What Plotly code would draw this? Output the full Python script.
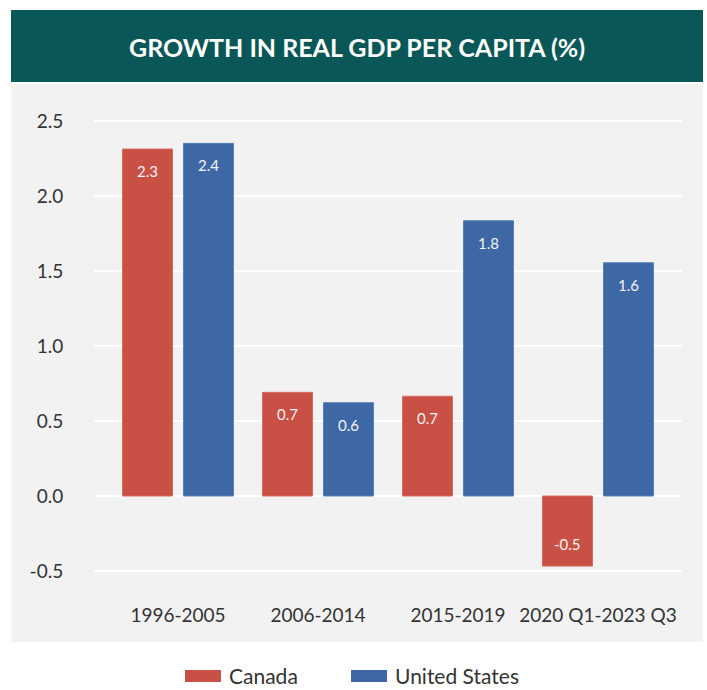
import plotly.graph_objects as go

# Growth in real GDP per capita (%), by period
periods = ["1996-2005", "2006-2014", "2015-2019", "2020 Q1-2023 Q3"]
canada = [2.313, 0.691, 0.665, -0.467]
united_states = [2.351, 0.622, 1.835, 1.555]

tick_vals = [-0.5, 0.0, 0.5, 1.0, 1.5, 2.0, 2.5]
tick_text = ["-0.5", "0.0", "0.5", "1.0", "1.5", "2.0", "2.5"]

RED = "#c95045"
BLUE = "#3d68a5"
TEAL = "#0a5757"
PANEL = "#f2f2f2"
FONT = "Lato"
TEXT = "#333333"

W, H = 707, 690
L, R, T, B = 94, 25, 106, 104
PW, PH = W - L - R, H - T - B


def px_x(x):
    return (x - L) / PW


def px_y(y):
    return (H - B - y) / PH


fig = go.Figure()

series = [("Canada", canada, RED, "#d46a60"), ("United States", united_states, BLUE, "#5a80b6")]
for name, vals, color, edge in series:
    fig.add_trace(go.Bar(
        name=name, x=periods, y=vals,
        marker=dict(color=color, line=dict(color=edge, width=1)),
        showlegend=False, hoverinfo="skip",
    ))

# value labels inside the bar ends
for i, (name, vals, color, edge) in enumerate(series):
    shift = -30.75 if i == 0 else 30.75
    for p, v in zip(periods, vals):
        fig.add_annotation(
            x=p, y=v, xref="x", yref="y", text=f"{v:.1f}", showarrow=False,
            xshift=shift, yshift=-22 if v >= 0 else 22,
            font=dict(family=FONT, size=15, color="#f4f4f4"),
        )

# title banner and grey panel
fig.add_shape(type="rect", xref="paper", yref="paper", layer="below",
              x0=px_x(11), x1=px_x(703), y0=px_y(84), y1=px_y(642),
              fillcolor=PANEL, line_width=0)
fig.add_shape(type="rect", xref="paper", yref="paper", layer="below",
              x0=px_x(11), x1=px_x(703), y0=px_y(10), y1=px_y(82),
              fillcolor=TEAL, line_width=0)
fig.add_annotation(
    x=px_x(357), y=px_y(47), xref="paper", yref="paper", showarrow=False,
    text="<b>GROWTH IN REAL GDP PER CAPITA (%)</b>",
    font=dict(family=FONT, size=25, color="white"),
    xanchor="center", yanchor="middle",
)

# legend below the panel: wide colour swatch + series name
legend_items = [(185, "Canada", RED), (351, "United States", BLUE)]
for x0, name, color in legend_items:
    fig.add_shape(type="rect", xref="paper", yref="paper",
                  x0=px_x(x0), x1=px_x(x0 + 36), y0=px_y(682), y1=px_y(670),
                  fillcolor=color, line_width=0)
    fig.add_annotation(
        x=px_x(x0 + 43), y=px_y(675.5), xref="paper", yref="paper",
        showarrow=False, text=name, xanchor="left", yanchor="middle",
        borderpad=0,
        font=dict(family=FONT, size=21, color=TEXT),
    )

fig.update_layout(
    width=W, height=H,
    margin=dict(l=L, r=R, t=T, b=B, pad=0),
    paper_bgcolor="white", plot_bgcolor="rgba(0,0,0,0)",
    barmode="group", bargap=0.129, bargroupgap=0.18,
    font=dict(family=FONT, color=TEXT),
    showlegend=False,
    xaxis=dict(
        range=[-0.6, 3.6], showgrid=False, zeroline=False, showline=False,
        ticks="outside", ticklen=12, tickcolor="rgba(0,0,0,0)",
        tickfont=dict(family=FONT, size=19, color=TEXT),
    ),
    yaxis=dict(
        range=[-0.6, 2.6], tickvals=tick_vals, ticktext=tick_text,
        showgrid=True, gridcolor="white", gridwidth=2,
        zeroline=False, showline=False,
        ticks="outside", ticklen=26, tickcolor="rgba(0,0,0,0)",
        tickfont=dict(family=FONT, size=19, color=TEXT),
    ),
)

fig.write_html("out.html")
